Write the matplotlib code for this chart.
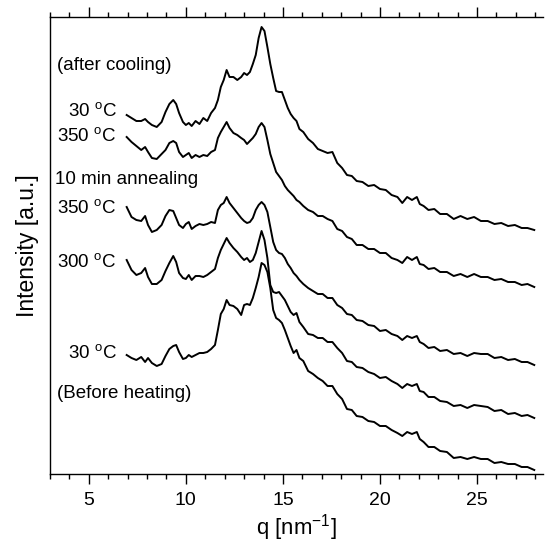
import matplotlib
matplotlib.use("Agg")
import matplotlib.pyplot as plt
from matplotlib.ticker import MultipleLocator

plt.rcParams['font.family'] = ['Liberation Sans', 'DejaVu Sans']
plt.rcParams['mathtext.fontset'] = 'custom'
plt.rcParams['mathtext.rm'] = 'Liberation Sans'
plt.rcParams['mathtext.it'] = 'Liberation Sans:italic'

# common q grid (nm^-1)
q = [6.95, 7.2, 7.45, 7.7, 7.9, 8.05, 8.25, 8.5, 8.75, 8.95,
     9.15, 9.35, 9.5, 9.65, 9.85, 10.0, 10.15, 10.3, 10.5, 10.7,
     10.9, 11.1, 11.3, 11.5, 11.65, 11.8, 11.95, 12.1, 12.25, 12.45,
     12.65, 12.85, 13.0, 13.15, 13.3, 13.45, 13.6, 13.75, 13.9, 14.05,
     14.2, 14.35, 14.5, 14.65, 14.8, 14.95, 15.1, 15.25, 15.4, 15.55,
     15.7, 15.85, 16.05, 16.3, 16.55, 16.8, 17.05, 17.3, 17.55, 17.8,
     18.05, 18.3, 18.55, 18.8, 19.1, 19.4, 19.7, 20.0, 20.3, 20.6,
     20.9, 21.15, 21.4, 21.65, 21.9, 22.05, 22.25, 22.5, 22.8, 23.1,
     23.45, 23.8, 24.15, 24.5, 24.85, 25.2, 25.55, 25.9, 26.25, 26.6,
     26.95, 27.3, 27.6, 27.95]

# intensities (a.u., already vertically offset)
after_cool_30 = [359, 356, 353, 353, 355, 352, 349, 347, 352, 362,
                 370, 374, 370, 361, 352, 349, 351, 348, 353, 350,
                 356, 353, 361, 366, 374, 387, 394, 404, 397, 397,
                 394, 397, 401, 399, 402, 410, 419, 436, 447, 443,
                 427, 410, 396, 383, 382, 382, 374, 366, 360, 356,
                 353, 345, 342, 335, 331, 325, 323, 321, 322, 311,
                 306, 299, 298, 293, 292, 288, 289, 285, 284, 279,
                 277, 271, 277, 274, 277, 270, 268, 264, 265, 260,
                 260, 255, 258, 255, 257, 253, 253, 250, 251, 248,
                 249, 246, 246, 244]
after_cool_350 = [337, 332, 328, 324, 327, 322, 316, 315, 320, 324,
                  331, 333, 331, 322, 317, 319, 321, 316, 319, 317,
                  319, 318, 322, 324, 336, 342, 347, 352, 346, 341,
                  339, 336, 334, 330, 333, 336, 340, 347, 351, 347,
                  334, 320, 311, 302, 298, 294, 288, 284, 281, 278,
                  274, 272, 268, 264, 262, 258, 258, 255, 253, 245,
                  243, 237, 235, 229, 229, 225, 225, 221, 221, 216,
                  214, 211, 217, 214, 217, 210, 209, 205, 206, 202,
                  202, 198, 200, 197, 200, 197, 197, 194, 195, 192,
                  192, 189, 190, 187]
anneal_350 = [267, 257, 254, 253, 258, 249, 242, 244, 249, 258,
              264, 263, 256, 249, 246, 250, 252, 245, 248, 250,
              249, 250, 252, 251, 264, 269, 271, 277, 271, 266,
              261, 256, 253, 251, 252, 256, 264, 269, 272, 269,
              262, 247, 232, 224, 221, 220, 216, 210, 206, 201,
              198, 194, 190, 186, 183, 180, 180, 176, 176, 169,
              166, 160, 159, 154, 153, 149, 148, 143, 144, 140,
              138, 134, 138, 136, 138, 132, 130, 126, 127, 123,
              124, 120, 121, 118, 121, 120, 120, 116, 117, 114,
              115, 112, 112, 109]
heat_300 = [214, 204, 199, 201, 206, 197, 190, 190, 194, 203,
            211, 218, 212, 201, 196, 195, 199, 194, 198, 198,
            197, 199, 202, 205, 216, 224, 230, 236, 231, 226,
            222, 217, 214, 216, 212, 214, 221, 232, 243, 234,
            216, 189, 182, 181, 182, 178, 174, 168, 162, 159,
            161, 152, 147, 140, 139, 136, 136, 132, 132, 126,
            121, 113, 112, 107, 106, 102, 100, 96, 97, 93,
            90, 86, 90, 88, 90, 83, 82, 77, 77, 73,
            72, 68, 69, 66, 69, 68, 67, 63, 64, 60,
            61, 58, 59, 56]
before_30 = [119, 116, 114, 117, 112, 116, 111, 108, 110, 118,
             125, 128, 129, 122, 115, 116, 119, 117, 119, 121,
             121, 122, 125, 129, 144, 160, 165, 174, 169, 168,
             165, 159, 169, 170, 169, 176, 186, 197, 211, 209,
             202, 186, 164, 156, 154, 151, 144, 136, 128, 121,
             124, 116, 113, 103, 100, 96, 93, 88, 88, 80,
             75, 65, 64, 58, 57, 53, 52, 48, 48, 44,
             41, 38, 42, 40, 42, 35, 32, 27, 27, 23,
             22, 16, 17, 15, 17, 15, 15, 11, 12, 10,
             10, 7, 7, 4]

curves = [after_cool_30, after_cool_350, anneal_350, heat_300, before_30]

fig = plt.figure(figsize=(5.46, 5.45), dpi=100)
ax = fig.add_axes([50/546, 1-474/545, 493/546, 457/545])

for c in curves:
    n = min(len(q), len(c))
    ax.plot(q[:n], c[:n], color='black', lw=1.4)

ax.set_xlim(3.0, 28.4)
ax.set_ylim(0, 457)

ax.xaxis.set_major_locator(MultipleLocator(5))
ax.xaxis.set_minor_locator(MultipleLocator(1))
ax.tick_params(axis='x', which='both', direction='out', top=True, bottom=True,
               labeltop=False, labelsize=14, width=1.0, pad=6)
ax.tick_params(axis='x', which='major', length=7)
ax.tick_params(axis='x', which='minor', length=3.5)
ax.set_yticks([])
ax.spines['right'].set_visible(False)
for s in ['left', 'bottom', 'top']:
    ax.spines[s].set_linewidth(1.0)

ax.set_xlabel('q [nm$^{-1}$]', fontsize=16, labelpad=2)
ax.set_ylabel('Intensity [a.u.]', fontsize=16.5, labelpad=8)

fs = 13.5
labels = [
    (3.36, 408, '(after cooling)'),
    (3.93, 363, '30 $^{\\mathrm{o}}$C'),
    (3.36, 338, '350 $^{\\mathrm{o}}$C'),
    (3.26, 294, '10 min annealing'),
    (3.36, 266, '350 $^{\\mathrm{o}}$C'),
    (3.36, 212, '300 $^{\\mathrm{o}}$C'),
    (3.93, 121, '30 $^{\\mathrm{o}}$C'),
    (3.36, 81, '(Before heating)'),
]
for x, y, t in labels:
    ax.text(x, y, t, fontsize=fs, ha='left', va='center')

fig.savefig('out.png', dpi=100)
